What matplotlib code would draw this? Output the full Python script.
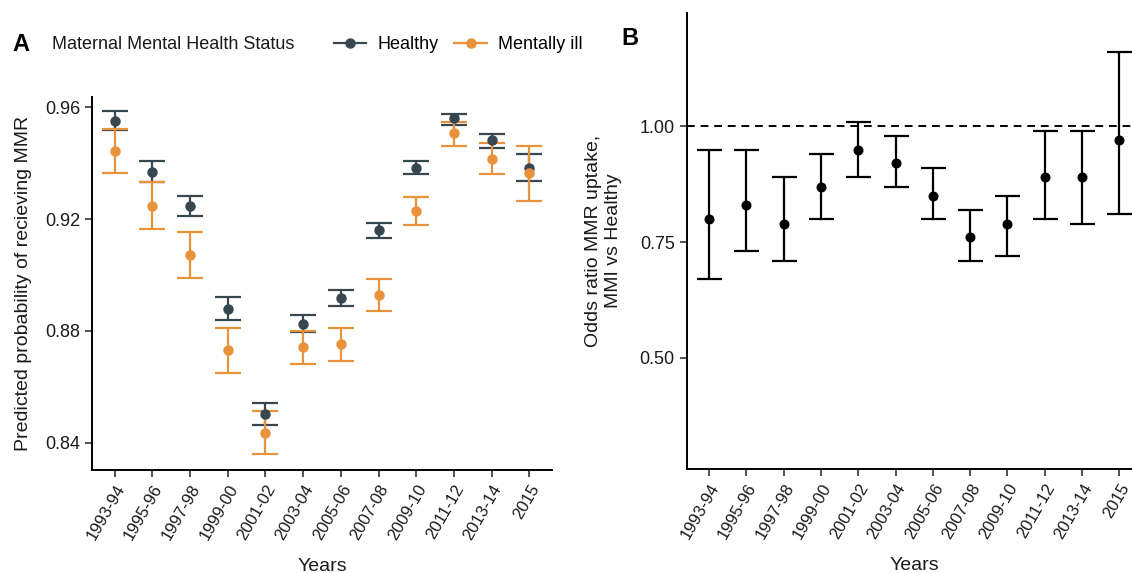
import numpy as np
import matplotlib.pyplot as plt

plt.rcParams['font.family'] = ['Liberation Sans', 'DejaVu Sans']

years = ['1993-94', '1995-96', '1997-98', '1999-00', '2001-02', '2003-04',
         '2005-06', '2007-08', '2009-10', '2011-12', '2013-14', '2015']

# panel A: predicted probability, healthy mothers
healthy = [0.9552, 0.9369, 0.9247, 0.8879, 0.8503, 0.8825, 0.8918, 0.9159, 0.9384, 0.9560, 0.9482, 0.9384]
healthy_lo = [0.9520, 0.9332, 0.9211, 0.8839, 0.8465, 0.8795, 0.8888, 0.9132, 0.9361, 0.9536, 0.9453, 0.9337]
healthy_hi = [0.9585, 0.9408, 0.9284, 0.8921, 0.8543, 0.8858, 0.8948, 0.9185, 0.9408, 0.9577, 0.9504, 0.9432]

# panel A: mentally ill mothers
ill = [0.9444, 0.9248, 0.9071, 0.8732, 0.8435, 0.8741, 0.8752, 0.8927, 0.9229, 0.9506, 0.9416, 0.9365]
ill_lo = [0.9365, 0.9166, 0.8990, 0.8649, 0.8361, 0.8680, 0.8692, 0.8870, 0.9178, 0.9462, 0.9361, 0.9266]
ill_hi = [0.9523, 0.9332, 0.9152, 0.8812, 0.8512, 0.8801, 0.8810, 0.8984, 0.9279, 0.9547, 0.9471, 0.9462]

# panel B: odds ratio MMI vs healthy
odds = [0.80, 0.83, 0.79, 0.87, 0.95, 0.92, 0.85, 0.76, 0.79, 0.89, 0.89, 0.97]
odds_lo = [0.67, 0.73, 0.71, 0.80, 0.89, 0.87, 0.80, 0.71, 0.72, 0.80, 0.79, 0.81]
odds_hi = [0.95, 0.95, 0.89, 0.94, 1.01, 0.98, 0.91, 0.82, 0.85, 0.99, 0.99, 1.16]

col_h = '#36474f'
col_m = '#e8923a'

x = np.arange(len(years))

fig = plt.figure(figsize=(11.32, 5.73), dpi=100)
axA = fig.add_axes([0.0813, 0.180, 0.4064, 0.651])
# panel B runs a little past the right edge, like the original
axB = fig.add_axes([0.6066, 0.181, 0.402, 0.7963])


def err(v, lo, hi):
    v = np.array(v)
    return [v - np.array(lo), np.array(hi) - v]


axA.errorbar(x, healthy, yerr=err(healthy, healthy_lo, healthy_hi), fmt='o', color=col_h,
             ms=6.5, elinewidth=1.6, capsize=9.5, capthick=1.6, label='Healthy')
axA.errorbar(x, ill, yerr=err(ill, ill_lo, ill_hi), fmt='o', color=col_m,
             ms=6.5, elinewidth=1.6, capsize=9.5, capthick=1.6, label='Mentally ill')
axA.set_xlim(-0.6, len(years) - 0.4)
axA.set_ylim(0.8303, 0.9637)
axA.set_yticks([0.84, 0.88, 0.92, 0.96])
axA.set_yticklabels(['0.84', '0.88', '0.92', '0.96'])
axA.set_ylabel('Predicted probability of recieving MMR', fontsize=14, color='#1a1a1a', labelpad=9)

axB.errorbar(x, odds, yerr=err(odds, odds_lo, odds_hi), fmt='o', color='black',
             ms=6.2, elinewidth=1.6, capsize=9, capthick=1.6)
axB.axhline(1.0, color='black', ls=(0, (4, 3)), lw=1.4)
axB.set_xlim(-0.6, len(years) - 0.4)
axB.set_ylim(0.259, 1.245)
axB.set_yticks([0.5, 0.75, 1.0])
axB.set_yticklabels(['0.50', '0.75', '1.00'])
axB.set_ylabel('Odds ratio MMR uptake,\nMMI vs Healthy', fontsize=14, color='#1a1a1a', labelpad=13)

for ax in (axA, axB):
    ax.set_xticks(x)
    ax.set_xticklabels(years, rotation=60, ha='right', rotation_mode='anchor', fontsize=12)
    ax.set_xlabel('Years', fontsize=14, color='#1a1a1a', labelpad=11)
    for s in ['top', 'right']:
        ax.spines[s].set_visible(False)
    for s in ['left', 'bottom']:
        ax.spines[s].set_linewidth(1.4)
    ax.tick_params(axis='y', labelsize=13)
    ax.tick_params(width=1.2, length=5, colors='#333333', labelcolor='#1a1a1a')

fig.text(0.011, 0.922, 'A', fontsize=17, fontweight='bold', va='center')
fig.text(0.549, 0.932, 'B', fontsize=17, fontweight='bold', va='center')
fig.text(0.046, 0.922, 'Maternal Mental Health Status', fontsize=13, va='center', color='#1a1a1a')

h, l = axA.get_legend_handles_labels()
handles = [plt.Line2D([], [], color=col_h, marker='o', ms=6.5, lw=1.6),
           plt.Line2D([], [], color=col_m, marker='o', ms=6.5, lw=1.6)]
fig.legend(handles, l, loc='center left', bbox_to_anchor=(0.2805, 0.922), ncol=2,
           frameon=False, fontsize=13, handlelength=1.8, columnspacing=0.9,
           handletextpad=0.6)

fig.savefig('out.png', dpi=100)
